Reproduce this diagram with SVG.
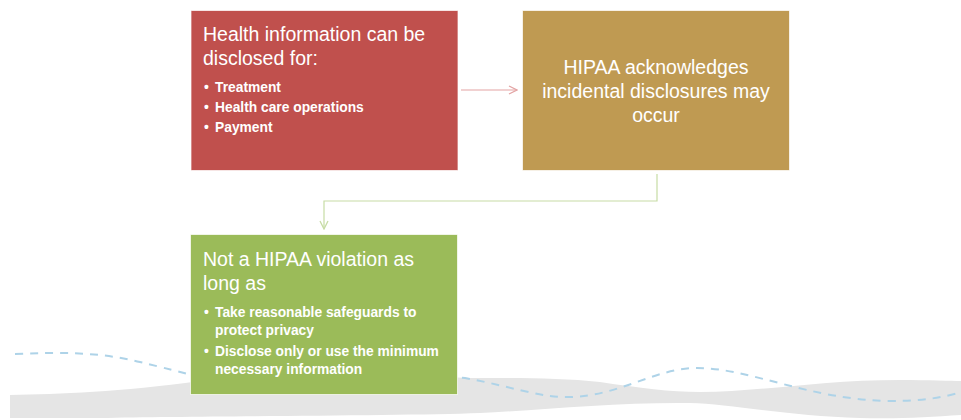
<svg xmlns="http://www.w3.org/2000/svg" width="961" height="420" viewBox="0 0 961 420">
<style>
.box{stroke:#ffffff;stroke-width:1;stroke-opacity:0.7}
.title{font-family:"Liberation Sans",Arial,sans-serif;font-size:19.5px;fill:#ffffff}
.bul{font-family:"Liberation Sans",Arial,sans-serif;font-size:13.8px;font-weight:bold;fill:#ffffff}
.conn{fill:none;stroke-width:1.2}
</style>
<defs>
<marker id="arrRed" viewBox="0 0 10 10" refX="9" refY="5" markerWidth="10" markerHeight="10" markerUnits="userSpaceOnUse" orient="auto">
<path d="M1 1 L9 5 L1 9" fill="none" stroke="#e3a3a3" stroke-width="1.3"/>
</marker>
<marker id="arrGreen" viewBox="0 0 10 10" refX="9" refY="5" markerWidth="10" markerHeight="10" markerUnits="userSpaceOnUse" orient="auto">
<path d="M1 1 L9 5 L1 9" fill="none" stroke="#c7dca5" stroke-width="1.3"/>
</marker>
</defs>
<rect width="961" height="420" fill="#ffffff"/>
<g id="background">
<path d="M10 395 C 60 394, 120 392, 200 381 C 300 372, 400 376, 470 378 C 520 378, 560 378, 600 382 C 640 388, 670 392, 700 392 C 760 392, 820 380, 900 380 C 930 380, 950 381, 961 381 L 961 415 C 930 417, 900 419, 860 418 C 790 416, 730 404, 690 403 C 620 402, 540 410, 480 413 C 400 416, 200 416, 100 418 L 10 418 Z" fill="#e5e5e5"/>
<path d="M15 354 C 60 352, 100 352, 140 362 C 165 368, 180 372, 195 376 C 300 396, 400 370, 465 378 C 510 386, 540 398, 570 397 C 620 396, 655 368, 697 368 C 750 368, 810 400, 890 401 C 925 401, 945 397, 961 392" fill="none" stroke="#aed3e8" stroke-width="2" stroke-dasharray="8 7"/>
</g>
<g id="connectors">
<path class="conn" d="M461 90 L517 90" stroke="#e3a3a3" marker-end="url(#arrRed)"/>
<path class="conn" d="M657 174 L657 201 L324 201 L324 229" stroke="#c7dca5" marker-end="url(#arrGreen)"/>
</g>
<g id="node-disclosed">
<rect class="box" x="191" y="10.5" width="267" height="160" fill="#c0504d"/>
<text class="title" x="203" y="41">Health information can be</text>
<text class="title" x="203" y="65">disclosed for:</text>
<text class="bul" x="204" y="92">•</text><text class="bul" x="215" y="92">Treatment</text>
<text class="bul" x="204" y="112">•</text><text class="bul" x="215" y="112">Health care operations</text>
<text class="bul" x="204" y="132">•</text><text class="bul" x="215" y="132">Payment</text>
</g>
<g id="node-incidental">
<rect class="box" x="522.5" y="10.5" width="267" height="160" fill="#bf9a52"/>
<text class="title" x="656" y="74" text-anchor="middle">HIPAA acknowledges</text>
<text class="title" x="656" y="98" text-anchor="middle">incidental disclosures may</text>
<text class="title" x="656" y="122" text-anchor="middle">occur</text>
</g>
<g id="node-not-violation">
<rect class="box" x="190.5" y="234.5" width="267" height="160" fill="#9bbb59"/>
<text class="title" x="203" y="266">Not a HIPAA violation as</text>
<text class="title" x="203" y="290">long as</text>
<text class="bul" x="204" y="317">•</text><text class="bul" x="215" y="317">Take reasonable safeguards to</text>
<text class="bul" x="215" y="335">protect privacy</text>
<text class="bul" x="204" y="356">•</text><text class="bul" x="215" y="356">Disclose only or use the minimum</text>
<text class="bul" x="215" y="374">necessary information</text>
</g>
</svg>
